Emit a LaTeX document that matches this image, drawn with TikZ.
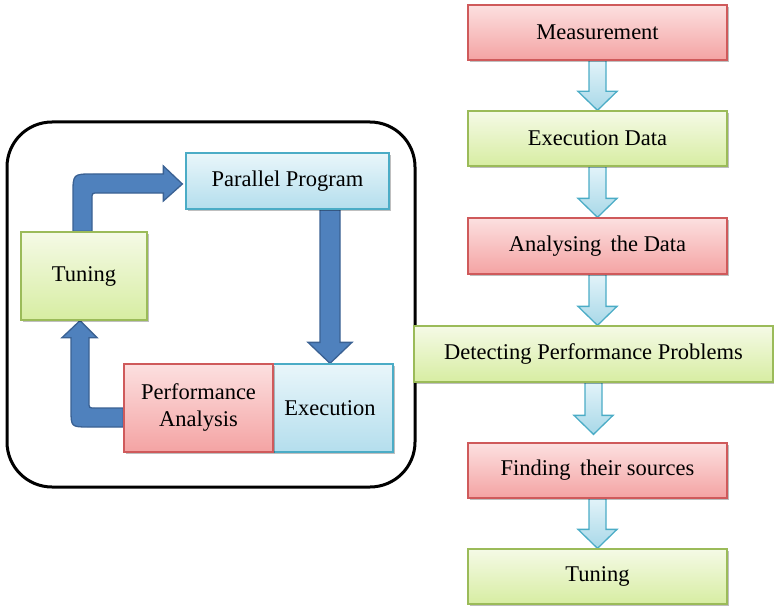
\documentclass[tikz,border=0pt]{standalone}
\usepackage{fontspec}
\setmainfont{Liberation Serif}
\usetikzlibrary{calc,shadows}
\pgfdeclarelayer{bg}
\pgfsetlayers{bg,main}
\definecolor{redtop}{HTML}{FCE0E0}
\definecolor{redbot}{HTML}{F4A3A3}
\definecolor{redline}{HTML}{CF5A5B}
\definecolor{greentop}{HTML}{F5FAE6}
\definecolor{greenbot}{HTML}{D7EDA2}
\definecolor{greenline}{HTML}{9BBB59}
\definecolor{bluetop}{HTML}{E9F6FA}
\definecolor{bluebot}{HTML}{B4DEED}
\definecolor{blueline}{HTML}{4BACC6}
\definecolor{darkfill}{HTML}{4F81BD}
\definecolor{darkline}{HTML}{3A6193}
\definecolor{ltop}{HTML}{E2F3F9}
\definecolor{lbot}{HTML}{A8D8E8}
\tikzset{
  box/.style={rectangle, inner sep=0pt, line width=1.3pt, align=center,
    font=\fontsize{22.5}{27}\selectfont,
    drop shadow={shadow xshift=1.5pt, shadow yshift=-2pt, opacity=0.25, fill=black}},
  redbox/.style={box, draw=redline, top color=redtop, bottom color=redbot},
  greenbox/.style={box, draw=greenline, top color=greentop, bottom color=greenbot},
  bluebox/.style={box, draw=blueline, top color=bluetop, bottom color=bluebot},
  lightarrow/.style={draw=blueline, line width=1.3pt, top color=ltop, bottom color=lbot, line join=miter},
  darkarrow/.style={draw=darkline, line width=1.3pt, fill=darkfill, line join=miter},
  frame/.style={draw=black, line width=3pt, rounded corners=45pt, inner sep=0pt}
}
\newcommand{\flowarrow}[2]{%
  \path[lightarrow] let \p1=(#1.south), \p2=(#2) in
    (\x1-8.5pt,\y1) -- (\x1-8.5pt,\y2+19pt) -- (\x1-19.5pt,\y2+19pt) -- (\x1,\y2)
    -- (\x1+19.5pt,\y2+19pt) -- (\x1+8.5pt,\y2+19pt) -- (\x1+8.5pt,\y1) -- cycle;}
\begin{document}
\begin{tikzpicture}[x=1pt,y=-1pt]
\useasboundingbox (0,0) rectangle (774,607);
% frame
\node[frame, minimum width=408pt, minimum height=365pt] (frm) at (211,304.5) {};
% left cycle
\node[bluebox, minimum width=203pt, minimum height=56pt] (pp) at (287.5,181) {Parallel Program};
\node[greenbox, minimum width=126pt, minimum height=88pt] (tu) at (84,276) {Tuning};
\node[bluebox, minimum width=120pt, minimum height=88pt] (ex) at (333,408) {\hspace*{-6pt}Execution};
\node[redbox, minimum width=149pt, minimum height=88pt] (pa) at (198.5,408) {Performance\\Analysis};
% right flow
\node[redbox, minimum width=259pt, minimum height=55pt] (ms) at (597.5,32.5) {Measurement};
\node[greenbox, minimum width=259pt, minimum height=55pt] (ed) at (597.5,138.5) {Execution Data};
\node[redbox, minimum width=259pt, minimum height=56pt] (ad) at (597.5,246) {Analysing\, the Data};
\node[greenbox, minimum width=359pt, minimum height=56pt] (dp) at (593.5,354) {Detecting Performance Problems};
\node[redbox, minimum width=259pt, minimum height=55pt] (fs) at (597.5,470.5) {Finding\, their sources};
\node[greenbox, minimum width=259pt, minimum height=55pt] (tn) at (597.5,576.5) {Tuning};
\coordinate (fsin) at ($(fs.north)+(0,-8)$);
\begin{pgfonlayer}{bg}
\flowarrow{ms}{ed.north}
\flowarrow{ed}{ad.north}
\flowarrow{ad}{dp.north}
\flowarrow{dp}{fsin}
\flowarrow{fs}{tn.north}
% Parallel Program -> Execution
\path[darkarrow] let \p1=(pp.south), \p2=(ex.north) in
  (\x2-13pt,\y1) -- (\x2-13pt,\y2+21pt) -- (\x2-25pt,\y2+21pt) -- (\x2-3pt,\y2)
  -- (\x2+19pt,\y2+21pt) -- (\x2+7pt,\y2+21pt) -- (\x2+7pt,\y1) -- cycle;
% Performance Analysis -> Tuning
\path[darkarrow] let \p1=(pa.west), \p2=(tu.south) in
  (\x1,\y1) -- (\x2+11pt,\y1) .. controls (\x2+5pt,\y1) .. (\x2+5pt,\y1+6pt)
  -- (\x2+5pt,\y2-17pt) -- (\x2+13pt,\y2-17pt) -- (\x2-4pt,\y2)
  -- (\x2-22pt,\y2-17pt) -- (\x2-13pt,\y2-17pt) -- (\x2-13pt,\y1-1pt)
  .. controls (\x2-13pt,\y1-19pt) .. (\x2+5pt,\y1-19pt) -- (\x1,\y1-19pt) -- cycle;
% Tuning -> Parallel Program
\path[darkarrow] let \p1=(tu.north), \p2=(pp.west) in
  (\x1-11pt,\y1) -- (\x1-11pt,\y2-13pt) .. controls (\x1-11pt,\y2+7pt) .. (\x1+9pt,\y2+7pt)
  -- (\x2-22pt,\y2+7pt) -- (\x2-22pt,\y2+15pt) -- (\x2-3pt,\y2-3pt)
  -- (\x2-22pt,\y2-20pt) -- (\x2-22pt,\y2-12pt) -- (\x1+14pt,\y2-12pt)
  .. controls (\x1+8pt,\y2-12pt) .. (\x1+8pt,\y2-18pt) -- (\x1+8pt,\y1) -- cycle;
\end{pgfonlayer}
\end{tikzpicture}
\end{document}
